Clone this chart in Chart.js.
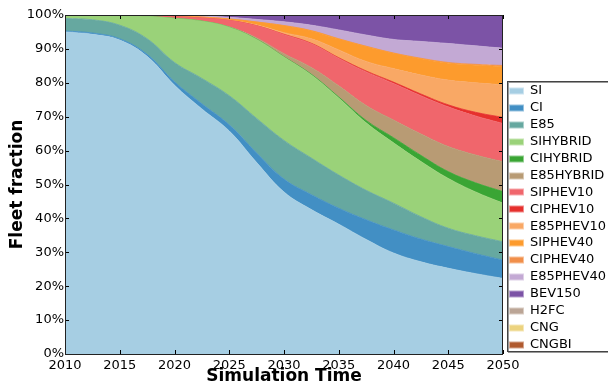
<!DOCTYPE html>
<html>
<head>
<meta charset="utf-8">
<script src="https://cdn.jsdelivr.net/npm/chart.js@4/dist/chart.umd.min.js"></script>
<style>
  html, body { margin: 0; padding: 0; background: #fff; }
  #wrap { width: 608px; height: 390px; }
</style>
</head>
<body>
<div id="wrap"><canvas id="fleet"></canvas></div>
<script>
// sample years and axis ticks
const years = [2010, 2012.5, 2015, 2017.5, 2020, 2022.5, 2025, 2027.5, 2030,
               2032.5, 2035, 2037.5, 2040, 2042.5, 2045, 2047.5, 2050];
const xTicks = [2010, 2015, 2020, 2025, 2030, 2035, 2040, 2045, 2050];
const yTicks = [0, 10, 20, 30, 40, 50, 60, 70, 80, 90, 100];

// fleet share per technology (%), stacked bottom -> top
const SI        = [95.0, 94.3, 92.6, 87.8, 79.3, 72.3, 65.8, 56.5, 47.8, 42.6, 38.3, 33.8, 29.8, 27.2, 25.3, 23.7, 22.3];
const CI        = [0.3, 0.4, 0.4, 0.6, 1.0, 1.5, 1.8, 2.8, 3.8, 4.4, 4.7, 5.8, 6.8, 6.7, 6.4, 5.9, 5.4];
const E85       = [3.7, 3.9, 4.0, 4.6, 5.7, 7.5, 8.6, 10.2, 11.4, 10.8, 9.8, 8.7, 7.9, 6.6, 5.4, 5.3, 5.4];
const SIHYBRID  = [0.9, 1.3, 2.8, 6.6, 13.0, 16.9, 20.2, 23.3, 24.6, 24.5, 22.7, 19.9, 17.8, 16.3, 14.7, 12.9, 11.4];
const CIHYBRID  = [0, 0, 0, 0, 0, 0, 0, 0.05, 0.1, 0.2, 0.3, 0.7, 1.5, 1.8, 2.0, 2.7, 3.4];
const E85HYBRID = [0, 0, 0, 0, 0.05, 0.05, 0.1, 0.4, 0.9, 2.0, 3.3, 4.4, 5.2, 6.3, 7.4, 8.2, 8.8];
const SIPHEV10  = [0.05, 0.05, 0.05, 0.15, 0.45, 0.85, 1.9, 3.55, 5.6, 7.0, 8.1, 9.9, 10.8, 11.3, 11.7, 11.5, 11.3];
const CIPHEV10  = [0, 0, 0, 0, 0, 0, 0, 0.05, 0.1, 0.15, 0.2, 0.3, 0.4, 0.5, 0.6, 1.1, 1.8];
const E85PHEV10 = [0, 0, 0, 0.05, 0.05, 0.1, 0.1, 0.25, 0.5, 1.35, 2.3, 2.8, 4.0, 5.6, 7.3, 8.7, 9.6];
const SIPHEV40  = [0.05, 0.02, 0.05, 0.05, 0.15, 0.2, 0.3, 0.8, 2.0, 2.3, 3.2, 4.4, 4.5, 4.8, 5.0, 5.2, 5.4];
const CIPHEV40  = [0, 0, 0, 0, 0, 0, 0.05, 0.05, 0.1, 0.1, 0.1, 0.1, 0.1, 0.15, 0.2, 0.25, 0.3];
const E85PHEV40 = [0, 0.03, 0.05, 0.05, 0.15, 0.3, 0.45, 0.75, 1.1, 1.6, 2.6, 3.3, 4.0, 4.95, 5.6, 5.45, 5.1];
const BEV150    = [0, 0, 0.05, 0.1, 0.15, 0.3, 0.7, 1.3, 2.0, 3.0, 4.4, 5.9, 7.2, 7.8, 8.4, 9.1, 9.8];
const H2FC      = [0, 0, 0, 0, 0, 0, 0, 0, 0, 0, 0, 0, 0, 0, 0, 0, 0];
const CNG       = [0, 0, 0, 0, 0, 0, 0, 0, 0, 0, 0, 0, 0, 0, 0, 0, 0];
const CNGBI     = [0, 0, 0, 0, 0, 0, 0, 0, 0, 0, 0, 0, 0, 0, 0, 0, 0];

const SERIES = [
    ["SI", SI, "#a6cee3"],
    ["CI", CI, "#428fc4"],
    ["E85", E85, "#66a8a0"],
    ["SIHYBRID", SIHYBRID, "#9ad279"],
    ["CIHYBRID", CIHYBRID, "#3aa534"],
    ["E85HYBRID", E85HYBRID, "#b89b74"],
    ["SIPHEV10", SIPHEV10, "#f0666c"],
    ["CIPHEV10", CIPHEV10, "#e6302d"],
    ["E85PHEV10", E85PHEV10, "#f9a865"],
    ["SIPHEV40", SIPHEV40, "#fd9b2d"],
    ["CIPHEV40", CIPHEV40, "#f18f4a"],
    ["E85PHEV40", E85PHEV40, "#c3a9d4"],
    ["BEV150", BEV150, "#7c53a6"],
    ["H2FC", H2FC, "#bba596"],
    ["CNG", CNG, "#ecd37f"],
    ["CNGBI", CNGBI, "#b05a2f"],
];

const FONT = "'DejaVu Sans', sans-serif";

// frame, inward ticks, axis titles and the legend box (drawn like matplotlib)
const decorations = {
    id: "decorations",
    afterDatasetsDraw(chart) {
        const { ctx, chartArea: a, scales } = chart;
        ctx.save();
        ctx.strokeStyle = "#000";
        ctx.lineWidth = 1;
        ctx.beginPath();
        scales.x.ticks.forEach(t => {
            const px = Math.round(scales.x.getPixelForValue(t.value)) + 0.5;
            ctx.moveTo(px, a.bottom); ctx.lineTo(px, a.bottom - 4);
            ctx.moveTo(px, a.top); ctx.lineTo(px, a.top + 4);
        });
        scales.y.ticks.forEach(t => {
            const py = Math.round(scales.y.getPixelForValue(t.value)) + 0.5;
            ctx.moveTo(a.left, py); ctx.lineTo(a.left + 4, py);
            ctx.moveTo(a.right, py); ctx.lineTo(a.right - 4, py);
        });
        ctx.stroke();
        ctx.strokeStyle = "#222";
        ctx.strokeRect(Math.round(a.left) + 0.5, Math.round(a.top) + 0.5,
            Math.round(a.right - a.left) - 1, Math.round(a.bottom - a.top));
        ctx.restore();
    },
    afterDraw(chart) {
        const { ctx, chartArea: a } = chart;
        ctx.save();
        ctx.fillStyle = "#000";
        ctx.font = "bold 17px " + FONT;
        ctx.textAlign = "center";
        ctx.textBaseline = "middle";
        ctx.fillText("Simulation Time", (a.left + a.right) / 2, 377);
        ctx.translate(18, (a.top + a.bottom) / 2);
        ctx.rotate(-Math.PI / 2);
        ctx.fillText("Fleet fraction", 0, 0);
        ctx.restore();

        // legend box, hanging past the right edge of the canvas
        const lx = 507, ly = 81, lh = 270;
        ctx.save();
        ctx.fillStyle = "#fff";
        ctx.fillRect(lx, ly, 140, lh);
        ctx.strokeStyle = "#999";
        ctx.strokeRect(lx + 1.5, ly + 1.5, 140, lh);
        ctx.strokeStyle = "#444";
        ctx.strokeRect(lx + 0.5, ly + 0.5, 140, lh);
        ctx.font = "13px " + FONT;
        ctx.textAlign = "left";
        ctx.textBaseline = "middle";
        chart.data.datasets.forEach((ds, i) => {
            const cy = 91 + i * 16.9;
            ctx.fillStyle = ds.backgroundColor;
            ctx.globalAlpha = 0.55;
            ctx.fillRect(509, Math.round(cy) - 3.5, 15, 7);
            ctx.globalAlpha = 1;
            ctx.fillRect(510, Math.round(cy) - 2.5, 13, 5);
            ctx.fillStyle = "#000";
            ctx.fillText(ds.label, 530, cy);
        });
        ctx.restore();
    }
};

new Chart(document.getElementById("fleet"), {
    type: "line",
    data: {
        datasets: SERIES.map(([name, vals, color], i) => ({
            label: name,
            data: years.map((yr, k) => ({ x: yr, y: vals[k] })),
            backgroundColor: color,
            borderColor: color,
            borderWidth: 0.8,
            pointRadius: 0,
            tension: 0.4,
            fill: i === 0 ? "origin" : "-1",
        })),
    },
    options: {
        responsive: true,
        maintainAspectRatio: false,
        animation: false,
        layout: { padding: { left: 0, top: 15, right: 105, bottom: 0 } },
        plugins: { legend: { display: false }, tooltip: { enabled: false } },
        scales: {
            x: {
                type: "linear",
                min: xTicks[0],
                max: xTicks[xTicks.length - 1],
                grid: { display: false, drawTicks: false },
                border: { display: false },
                afterFit: s => { s.height = 36; },
                afterBuildTicks: s => { s.ticks = xTicks.map(v => ({ value: v })); },
                ticks: {
                    padding: 4,
                    color: "#000",
                    font: { family: FONT, size: 13 },
                    callback: v => String(v),
                },
            },
            y: {
                stacked: true,
                min: 0,
                max: 100,
                grid: { display: false, drawTicks: false },
                border: { display: false },
                afterFit: s => { s.width = 65; },
                afterBuildTicks: s => { s.ticks = yTicks.map(v => ({ value: v })); },
                ticks: {
                    padding: 1,
                    color: "#000",
                    font: { family: FONT, size: 13 },
                    callback: v => v + "%",
                },
            },
        },
    },
    plugins: [decorations],
});
</script>
</body>
</html>
